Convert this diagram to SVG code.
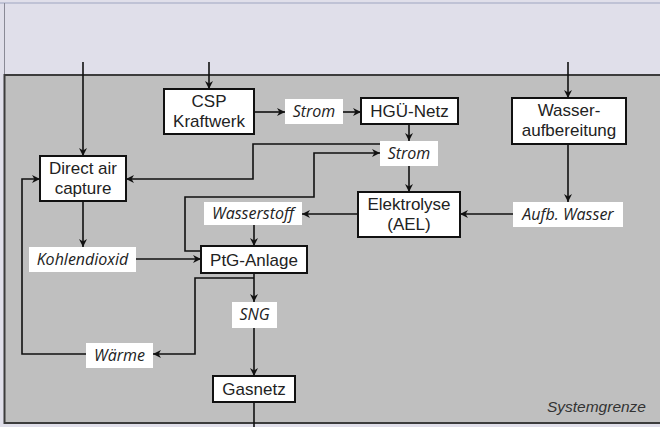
<svg xmlns="http://www.w3.org/2000/svg" width="660" height="427" viewBox="0 0 660 427">
  <style>
    .node rect { fill: #ffffff; stroke: #111111; stroke-width: 2; }
    .node text { font-family: "Liberation Sans", Arial, sans-serif; font-size: 17px; fill: #222222; text-anchor: middle; }
    .flow rect { fill: #ffffff; stroke: none; }
    .flow text { font-family: "Open Sans", "DejaVu Sans", sans-serif; font-style: italic; font-size: 16px; fill: #222222; text-anchor: middle; }
    .edges path { fill: none; stroke: #111111; stroke-width: 1.6; }
    .edges path.arr { marker-end: url(#head); }
  </style>
  <defs>
    <marker id="head" viewBox="0 0 10 10" refX="10" refY="5" markerWidth="9" markerHeight="8" markerUnits="userSpaceOnUse" orient="auto">
      <path d="M0,0 L10,5 L0,10 L3,5 z" fill="#111111"/>
    </marker>
  </defs>

  <!-- environment above the system boundary -->
  <rect x="0" y="0" width="660" height="427" fill="#e0dfea"/>
  <line x1="0" y1="3" x2="660" y2="3" stroke="#9ea6c0" stroke-width="1.2"/>
  <line x1="4.5" y1="3" x2="4.5" y2="75" stroke="#8a8a96" stroke-width="1"/>

  <!-- system boundary -->
  <g id="systemgrenze">
    <rect x="4.5" y="75" width="660" height="348" fill="#bfbfbf" stroke="#3c3c3c" stroke-width="2"/>
    <text x="646" y="412" text-anchor="end" font-family="'Liberation Sans', Arial, sans-serif" font-style="italic" font-size="15.5" fill="#333333">Systemgrenze</text>
  </g>

  <!-- connectors -->
  <g class="edges">
    <path class="arr" d="M83,62 V156"/>
    <path class="arr" d="M209,62 V89"/>
    <path class="arr" d="M568,62 V98"/>
    <path class="arr" d="M254,112 H285"/>
    <path class="arr" d="M343,112 H361"/>
    <path class="arr" d="M409,124 V141"/>
    <path class="arr" d="M409,166 V192"/>
    <path class="arr" d="M380,144 H253 V179 H126"/>
    <path class="arr" d="M201,251 H185 V197 H314 V153 H380"/>
    <path class="arr" d="M568,144 V202"/>
    <path class="arr" d="M513,214 H460"/>
    <path class="arr" d="M358,214 H302"/>
    <path class="arr" d="M254,225 V246"/>
    <path class="arr" d="M83,201 V247"/>
    <path class="arr" d="M136,259 H201"/>
    <path class="arr" d="M254,273 V302"/>
    <path class="arr" d="M254,328 V376"/>
    <path class="arr" d="M254,278 H195 V354 H153"/>
    <path class="arr" d="M86,354 H22 V179 H40"/>
    <path d="M254,402 V427"/>
  </g>

  <!-- process nodes -->
  <g id="csp" class="node">
    <rect x="164" y="89" width="90" height="45"/>
    <text x="209" y="107">CSP</text>
    <text x="209" y="127">Kraftwerk</text>
  </g>
  <g id="hgue" class="node">
    <rect x="361" y="98" width="97" height="26"/>
    <text x="409.5" y="117">HGÜ-Netz</text>
  </g>
  <g id="wasseraufbereitung" class="node">
    <rect x="512" y="98" width="114" height="46"/>
    <text x="569" y="116">Wasser-</text>
    <text x="569" y="136">aufbereitung</text>
  </g>
  <g id="dac" class="node">
    <rect x="40" y="156" width="86" height="45"/>
    <text x="83" y="174">Direct air</text>
    <text x="83" y="194">capture</text>
  </g>
  <g id="elektrolyse" class="node">
    <rect x="358" y="192" width="102" height="45"/>
    <text x="409" y="210">Elektrolyse</text>
    <text x="409" y="230">(AEL)</text>
  </g>
  <g id="ptg" class="node">
    <rect x="201" y="246" width="106" height="27"/>
    <text x="254" y="265.5">PtG-Anlage</text>
  </g>
  <g id="gasnetz" class="node">
    <rect x="213" y="376" width="82" height="26"/>
    <text x="254" y="395">Gasnetz</text>
  </g>

  <!-- flow labels -->
  <g id="strom1" class="flow">
    <rect x="285" y="99" width="58" height="25"/>
    <text x="314" y="117">Strom</text>
  </g>
  <g id="strom2" class="flow">
    <rect x="380" y="141" width="58" height="25"/>
    <text x="409" y="159">Strom</text>
  </g>
  <g id="wasserstoff" class="flow">
    <rect x="204" y="202" width="98" height="23"/>
    <text x="253" y="219">Wasserstoff</text>
  </g>
  <g id="aufbwasser" class="flow">
    <rect x="513" y="202" width="110" height="25"/>
    <text x="568" y="220">Aufb. Wasser</text>
  </g>
  <g id="kohlendioxid" class="flow">
    <rect x="29" y="247" width="107" height="25"/>
    <text x="82.5" y="265">Kohlendioxid</text>
  </g>
  <g id="sng" class="flow">
    <rect x="232" y="302" width="45" height="26"/>
    <text x="254.5" y="320">SNG</text>
  </g>
  <g id="waerme" class="flow">
    <rect x="86" y="343" width="67" height="25"/>
    <text x="119.5" y="361">Wärme</text>
  </g>
</svg>
